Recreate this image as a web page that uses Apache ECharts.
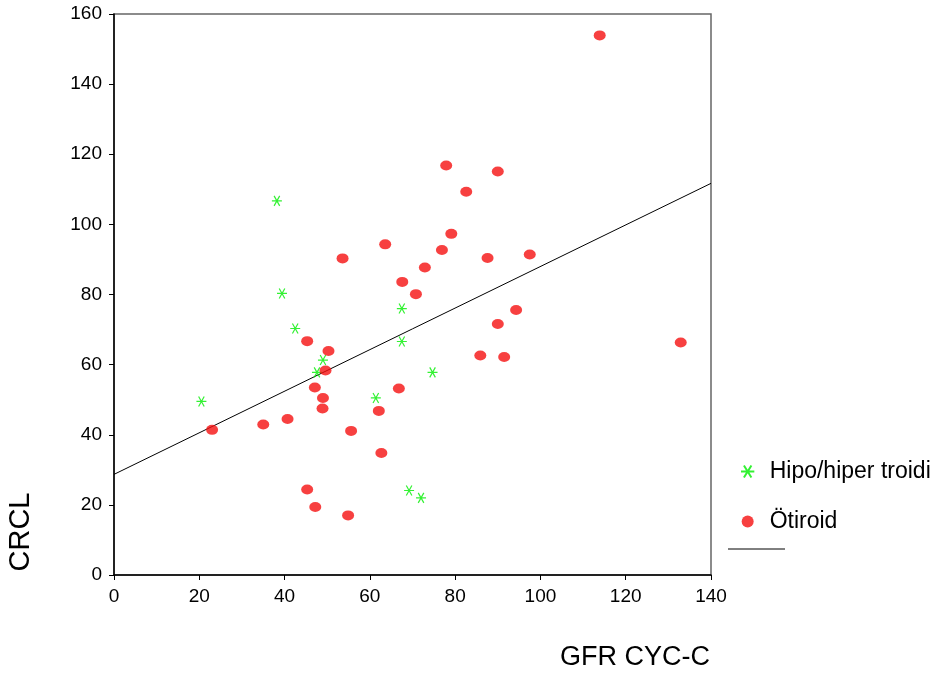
<!DOCTYPE html>
<html>
<head>
<meta charset="utf-8">
<script src="https://cdn.jsdelivr.net/npm/echarts@6/dist/echarts.min.js"></script>
<style>
html, body { margin: 0; padding: 0; background: #fff; }
#chart { width: 945px; height: 677px; }
</style>
</head>
<body>
<div id="chart"></div>
<script>
// Hipo/hiper troidi
var hipoX = [38.2, 39.4, 67.5, 42.5, 67.5, 49.0, 47.6, 61.4, 20.5, 69.2, 72.0, 74.7];
var hipoY = [106.7, 80.3, 76.0, 70.3, 66.6, 61.3, 57.8, 50.5, 49.5, 24.1, 22.0, 57.8];
// Ötiroid
var otiX = [63.6, 53.6, 67.6, 70.8, 113.9, 77.9, 90.0, 82.6, 79.1, 76.9, 87.6, 97.5, 72.9,
    45.3, 50.3, 49.6, 47.1, 66.8, 49.0, 48.9, 62.1, 40.7, 35.0, 23.0, 55.6, 62.7,
    45.3, 47.2, 54.9, 94.3, 90.0, 132.9, 85.9, 91.5];
var otiY = [94.3, 90.3, 83.6, 80.1, 153.9, 116.8, 115.1, 109.3, 97.3, 92.7, 90.4, 91.4, 87.7,
    66.7, 63.9, 58.3, 53.5, 53.2, 50.5, 47.5, 46.8, 44.5, 42.9, 41.4, 41.1, 34.8,
    24.4, 19.4, 17.0, 75.6, 71.6, 66.3, 62.6, 62.2];
// fit line
var fitX = [0, 140];
var fitY = [28.7, 111.7];

function pairs(xs, ys) {
    var out = [];
    for (var i = 0; i < xs.length; i++) out.push([xs[i], ys[i]]);
    return out;
}

var font = 'Liberation Sans, Arial, sans-serif';
var star = 'path://M0,5 L10,5 M2.2,0.5 L7.8,9.5 M7.8,0.5 L2.2,9.5';

var myChart = echarts.init(document.getElementById('chart'));
var option = {
    animation: false,
    backgroundColor: '#fff',
    grid: {
        left: 114, right: 234, top: 14, bottom: 102,
        show: true, borderColor: '#666', borderWidth: 1.5
    },
    legend: {
        orient: 'vertical',
        left: 735, top: 455,
        itemGap: 27,
        itemWidth: 16, itemHeight: 12,
        textStyle: { fontFamily: font, fontSize: 23, color: '#000', padding: [0, 0, 0, 9] },
        data: ['Hipo/hiper troidi', 'Ötiroid']
    },
    xAxis: {
        type: 'value', min: 0, max: 140, interval: 20,
        name: 'GFR CYC-C', nameLocation: 'end',
        nameTextStyle: { fontFamily: font, fontSize: 27, color: '#000', align: 'right', verticalAlign: 'top', padding: [69, 0, 0, 0] },
        nameGap: -1,
        axisLine: { lineStyle: { color: '#000', width: 1.5 } },
        axisTick: { length: 5, lineStyle: { color: '#000' } },
        axisLabel: { fontFamily: font, fontSize: 19, color: '#000', margin: 12 },
        splitLine: { show: false }
    },
    yAxis: {
        type: 'value', min: 0, max: 160, interval: 20,
        axisLine: { lineStyle: { color: '#000', width: 1.5 } },
        axisTick: { length: 5, lineStyle: { color: '#000' } },
        axisLabel: { fontFamily: font, fontSize: 19, color: '#000', margin: 12 },
        splitLine: { show: false }
    },
    series: [
        {
            name: 'Hipo/hiper troidi',
            type: 'scatter',
            symbol: star,
            symbolSize: 10,
            itemStyle: { color: 'rgba(0,0,0,0)', borderColor: '#00ee00', borderWidth: 1.2 },
            data: pairs(hipoX, hipoY)
        },
        {
            name: 'Ötiroid',
            type: 'scatter',
            symbol: 'circle',
            symbolSize: [12, 10],
            itemStyle: { color: '#f51010' },
            data: pairs(otiX, otiY)
        },
        {
            name: 'fit',
            type: 'line',
            symbol: 'none',
            lineStyle: { color: '#000', width: 1 },
            data: pairs(fitX, fitY),
            z: 1
        }
    ],
    graphic: [
        { type: 'line', shape: { x1: 728, y1: 549, x2: 785, y2: 549 }, style: { stroke: '#000', lineWidth: 1 } },
        {
            type: 'text', x: 21, y: 532, rotation: Math.PI / 2,
            style: { text: 'CRCL', font: '29px ' + font, fill: '#000', align: 'center', verticalAlign: 'middle' }
        }
    ]
};
myChart.setOption(option);
</script>
</body>
</html>
